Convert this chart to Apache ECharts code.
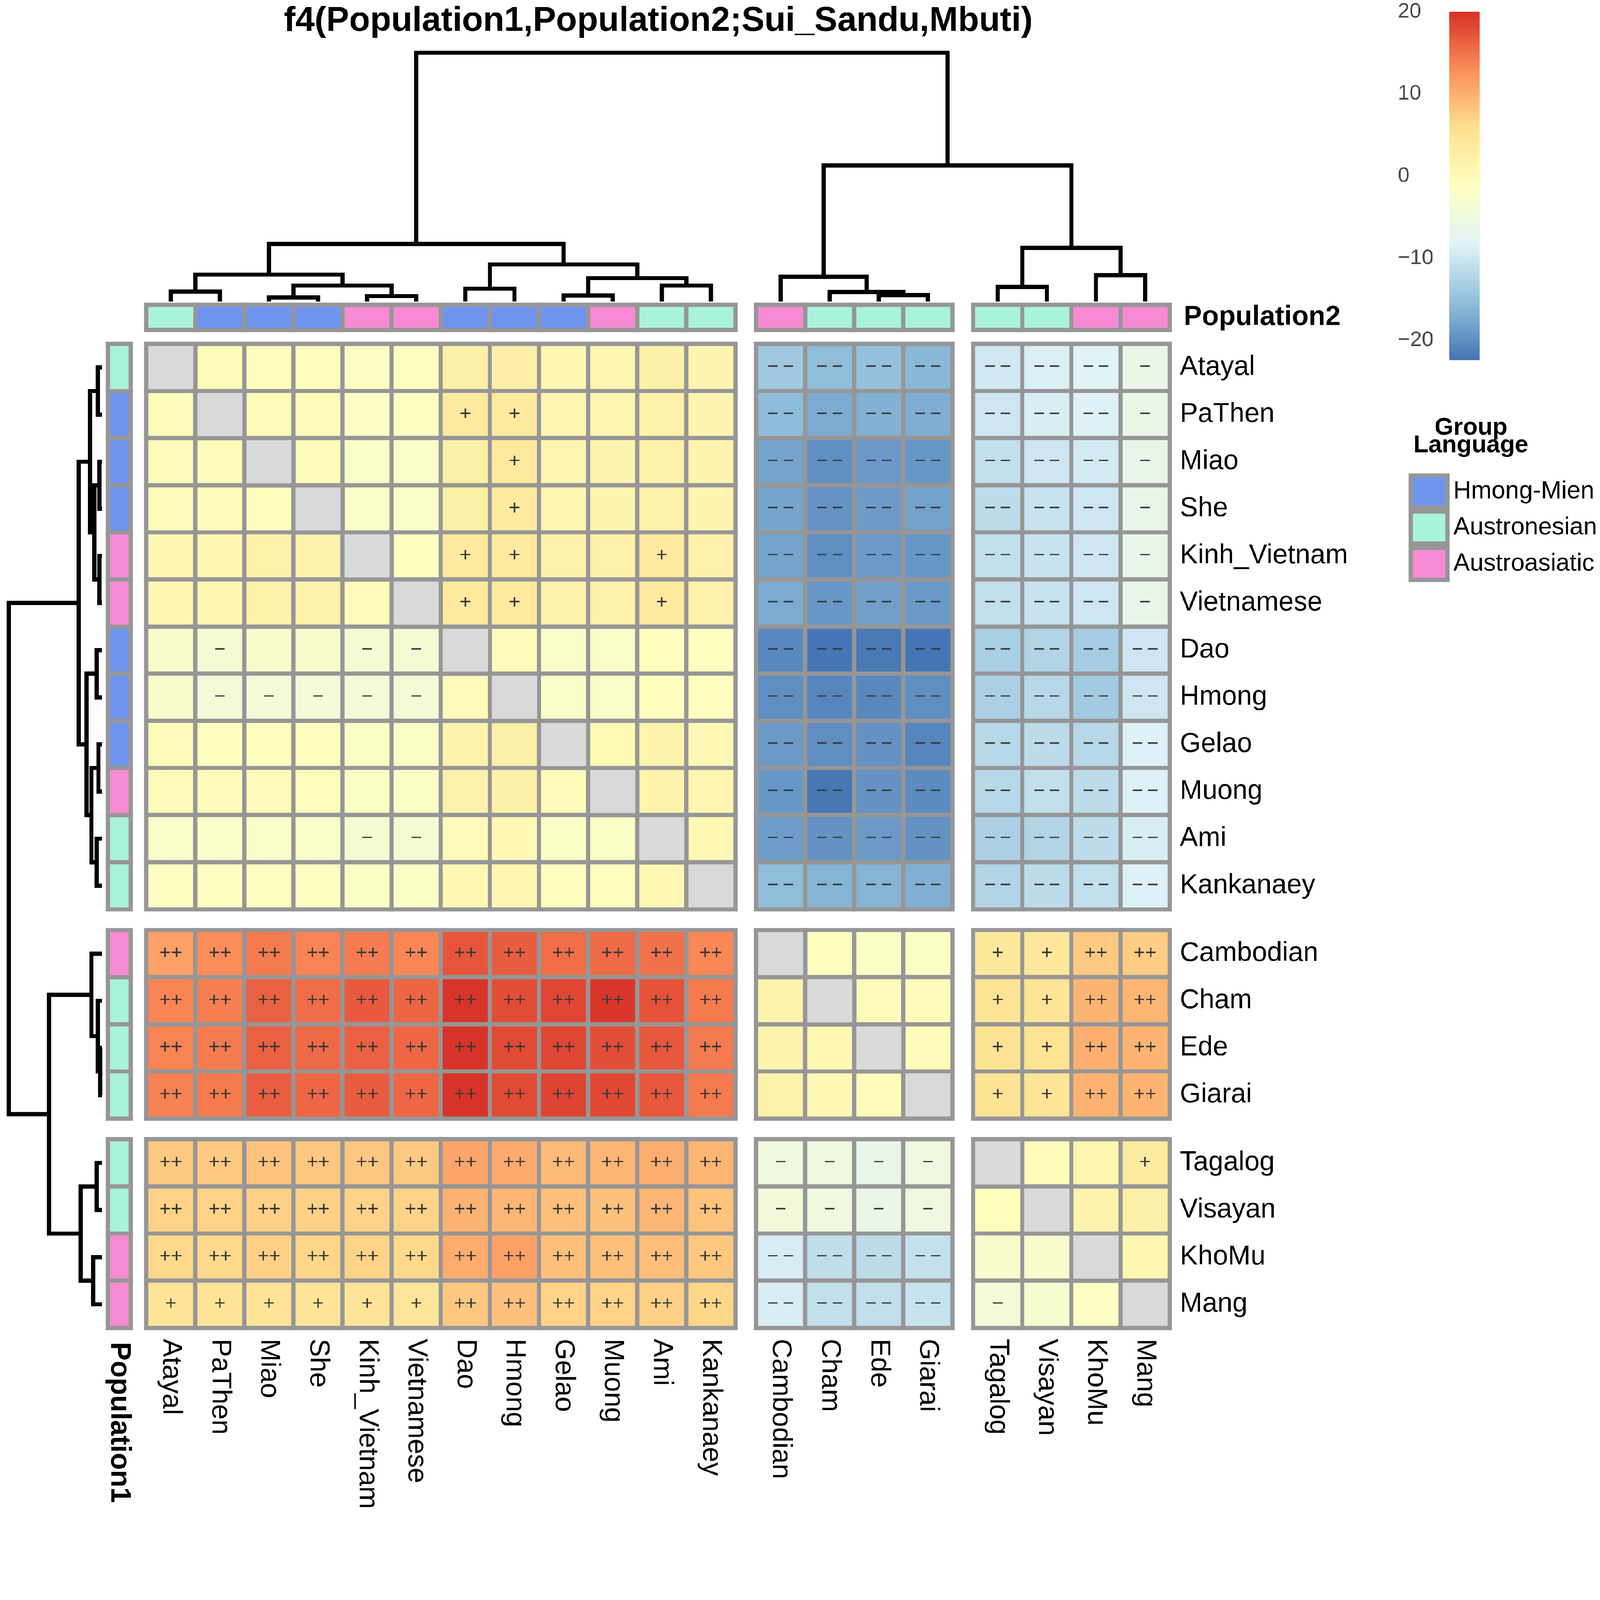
<!DOCTYPE html>
<html><head><meta charset="utf-8">
<script src="https://cdn.jsdelivr.net/npm/echarts@6/dist/echarts.min.js"></script>
<style>html,body{margin:0;padding:0;background:#fff;overflow:hidden}#c{width:4550px;height:4321px;transform-origin:0 0}</style>
</head><body><div id="c"></div>
<script>
// ---------------- DATA ----------------
const chartTitle = 'f4(Population1,Population2;Sui_Sandu,Mbuti)';
const populations = ['Atayal','PaThen','Miao','She','Kinh_Vietnam','Vietnamese','Dao','Hmong','Gelao','Muong','Ami','Kankanaey',
  'Cambodian','Cham','Ede','Giarai','Tagalog','Visayan','KhoMu','Mang'];
const clusterSizes = [12, 4, 4];
const languageGroups = ['Hmong-Mien', 'Austronesian', 'Austroasiatic'];
const populationLanguage = ['Austronesian','Hmong-Mien','Hmong-Mien','Hmong-Mien','Austroasiatic','Austroasiatic','Hmong-Mien','Hmong-Mien','Hmong-Mien','Austroasiatic','Austronesian','Austronesian',
  'Austroasiatic','Austronesian','Austronesian','Austronesian','Austronesian','Austronesian','Austroasiatic','Austroasiatic'];
// rows = Population1, columns = Population2 (same order as populations); null = same population
const f4Values = [
  [null,0,-0.8,-0.8,-1.8,-1.5,2.3,2.6,0.8,1,2.3,1.2, -14,-15.5,-15,-16, -9.8,-8.7,-8.2,-6.1],
  [-0.5,null,-0.5,-0.5,-1.8,-1.5,3.8,3.8,1,1,2,1.2, -15.6,-17.2,-16.7,-17, -10,-9,-8.5,-6],
  [-0.5,0,null,-0.3,-2.3,-2.3,2.5,3.6,1,1.2,2,1.3, -18,-19.9,-19,-19.2, -11,-10,-9.5,-6.5],
  [-0.5,0,-0.8,null,-2.3,-2.3,2.5,3.6,1,1.3,2,1.3, -17.8,-19.5,-18.7,-18.2, -11.5,-10.5,-10,-6.5],
  [0.8,1,2,1.7,null,-1.2,3.8,3.8,2,2,3.8,2, -18,-20,-18.9,-19.2, -11,-10.5,-10,-6.5],
  [0.8,1,2,1.7,-0.5,null,3.8,3.8,2,2,3.8,2, -17.3,-19.2,-18.4,-19, -11,-10.5,-10,-6.5],
  [-2.8,-3.8,-2.8,-2.8,-3.8,-3.8,null,-0.5,-2.3,-2.3,-1,-1.2, -20.5,-22.3,-22,-22.4, -13.2,-12.5,-13.5,-10],
  [-2.8,-4,-4,-4,-4,-4,0,null,-2.2,-2.2,-1,-1, -20,-20.8,-20.6,-20, -13,-12,-13.7,-10],
  [-0.5,-1,-1,-1,-2,-2,1.8,2.5,null,0.2,1.3,0.5, -18.9,-20,-19.6,-20.8, -12,-11.5,-12,-8.5],
  [-0.5,-0.5,-0.5,-0.7,-2,-2,2,2.2,-0.5,null,1.5,1, -19.2,-22.2,-19.6,-20.3, -12,-11,-11.5,-8.5],
  [-2.5,-2.5,-2.5,-2.5,-3.6,-3.6,0,0.3,-2,-2,null,0.3, -18.6,-19.6,-18.9,-19.6, -13,-12.5,-11.5,-9],
  [-1.5,-1.5,-1.5,-1.5,-2,-2,0.3,0.8,-1,-1,0.3,null, -15.5,-16.4,-16.4,-16.8, -12.5,-11.5,-11,-8.5],
  [11.3,13,14.3,13.7,14.2,13.5,17.2,16.6,15.3,15.5,15,13.4, null,-1,-2,-2, 4,4.2,7.8,7.5],
  [13.6,14,16.3,15.4,16.8,15.9,19.7,17.8,18.3,19.5,17.4,14.3, 1.5,null,-0.5,-0.5, 5.2,5,9.6,9.5],
  [13.6,14.2,16.3,15.6,16.3,15.8,19.8,18,18.3,17.8,17,14.4, 1.5,0.5,null,-0.5, 5.3,5.2,10,9.6],
  [13.8,14.3,16.5,15.8,16.6,15.8,19.8,18,18.5,18.2,17,14.4, 2,0.5,-0.5,null, 5.3,5,9.8,9.6],
  [7.8,7.8,8.3,8,8,7.8,11,10.5,9.2,9.5,10.2,9.5, -4.8,-5,-6.5,-5.2, null,-0.5,1,3.5],
  [7,7,7.2,7.2,7,7,9.8,9.5,8.7,8.5,9.5,8.3, -4.5,-5,-6,-5.2, -0.8,null,1.5,2.5],
  [6.5,6.5,7.2,6.8,7,6.5,10.3,11.2,8.7,8.7,8.8,8, -9.1,-11.2,-11.5,-10.8, -2.8,-2.8,null,0.8],
  [5,5,5,5,5,4.7,8,8.5,7,7,7.2,6.8, -9,-11,-11.1,-10.5, -4,-3,-1.8,null]
];
// significance marks: P = "++", p = "+", M = "--", m = "-", . = none
const significance = [
  '............MMMMMMMm',
  '......pp....MMMMMMMm',
  '.......p....MMMMMMMm',
  '.......p....MMMMMMMm',
  '......pp..p.MMMMMMMm',
  '......pp..p.MMMMMMMm',
  '.m..mm......MMMMMMMM',
  '.mmmmm......MMMMMMMM',
  '............MMMMMMMM',
  '............MMMMMMMM',
  '....mm......MMMMMMMM',
  '............MMMMMMMM',
  'PPPPPPPPPPPP....ppPP',
  'PPPPPPPPPPPP....ppPP',
  'PPPPPPPPPPPP....ppPP',
  'PPPPPPPPPPPP....ppPP',
  'PPPPPPPPPPPPmmmm...p',
  'PPPPPPPPPPPPmmmm....',
  'PPPPPPPPPPPPMMMM....',
  'ppppppPPPPPPMMMMm...'
];
// dendrogram merges: [left, right, height]; refs < 100 are leaf indexes, refs >= 100 are merge (ref-100)
const colMerges = [
  [2,3,12],[4,5,16],[0,1,29],[100,101,46],[102,103,77],
  [8,9,18],[10,11,46],[6,7,37],[105,106,67],[107,108,106],
  [104,109,164],[14,15,19],[13,111,28],[12,112,71],[16,17,42],
  [18,19,75],[114,115,153],[113,116,388],[110,117,708]
];
const rowMerges = [
  [2,3,7],[4,5,7],[0,1,12],[100,101,22],[102,103,34],
  [6,7,15],[8,9,10],[10,11,15],[106,107,30],[105,108,44],
  [104,109,66],[14,15,5],[13,111,12],[12,112,30],[16,17,15],
  [18,19,25],[114,115,61],[113,116,151],[110,117,265]
];
const colorRange = [-22.4, 20];
const colorbarTicks = [20, 10, 0, -10, -20];
const paletteColors = ['#4575B4','#91BFDB','#E0F3F8','#FFFFBF','#FEE090','#FC8D59','#D73027'];

// ---------------- STYLE / LAYOUT ----------------
const FONT = '"Liberation Sans", Arial, Helvetica, sans-serif';
const GRID_LINE = '#969696';
const NA_COLOR = '#d9d9d9';
const LANG_COLORS = {'Hmong-Mien':'#6f95ef','Austronesian':'#a9f3da','Austroasiatic':'#f68bd4'};
const SIGN_TEXT = {'P':'++','p':'+','M':'\u2212\u2009\u2212','m':'\u2212','.':''};
const L = {cellW:139.6, gapW:59, left0:416, cellH:134, gapH:59, top0:978,
  annTop:867, annH:71, annLeft:307, annW:65, border:12,
  colDendTop:150, colDendBottom:858, rowDendLeft:25, rowDendRight:290};

const starts = []; let acc = 0;
clusterSizes.forEach(s => { starts.push(acc); acc += s; });
const N = acc;
const colLeft = starts.map((s,g) => L.left0 + s*L.cellW + g*L.gapW);
const rowTop = starts.map((s,g) => L.top0 + s*L.cellH + g*L.gapH);
const totalW = N*L.cellW + (clusterSizes.length-1)*L.gapW;
const totalH = N*L.cellH + (clusterSizes.length-1)*L.gapH;
const names = g => populations.slice(starts[g], starts[g]+clusterSizes[g]);

const grid = [], xAxis = [], yAxis = [], series = [], mainIdx = [];
const hiddenAxis = {axisLine:{show:false}, axisTick:{show:false}, splitLine:{show:false}};
function addGrid(g, xa, ya) {
  const i = grid.length;
  grid.push(Object.assign({containLabel:false}, g));
  xAxis.push(Object.assign({gridIndex:i}, hiddenAxis, xa));
  yAxis.push(Object.assign({gridIndex:i}, hiddenAxis, ya));
  return i;
}

// ---- heatmap blocks ----
for (let r = 0; r < 3; r++) {
  for (let c = 0; c < 3; c++) {
    const r0 = starts[r], c0 = starts[c];
    const gi = addGrid(
      {left: colLeft[c], top: rowTop[r], width: clusterSizes[c]*L.cellW, height: clusterSizes[r]*L.cellH},
      {type:'category', data: names(c), axisLabel:{show: r===2, rotate:-90, fontSize:78, margin:31, color:'#000', fontFamily:FONT}},
      {type:'category', data: names(r), inverse:true, position:'right', axisLabel:{show: c===2, fontSize:77, margin:29, color:'#000', fontFamily:FONT}}
    );
    const data = [], na = [];
    for (let i = 0; i < clusterSizes[r]; i++) for (let j = 0; j < clusterSizes[c]; j++) {
      const v = f4Values[r0+i][c0+j];
      if (v === null) na.push([j, i, 0]); else data.push([j, i, v]);
    }
    series.push({type:'heatmap', xAxisIndex:gi, yAxisIndex:gi, data,
      itemStyle:{borderColor:GRID_LINE, borderWidth:L.border},
      label:{show:true, fontSize:56, color:'#383838', fontFamily:FONT,
        formatter: p => SIGN_TEXT[significance[r0+p.value[1]][c0+p.value[0]]]},
      emphasis:{disabled:true}});
    mainIdx.push(series.length-1);
    if (na.length) series.push({type:'heatmap', xAxisIndex:gi, yAxisIndex:gi, data:na,
      itemStyle:{color:NA_COLOR, borderColor:GRID_LINE, borderWidth:L.border}, emphasis:{disabled:true}});
  }
}

// ---- column annotation (Population2) ----
for (let c = 0; c < 3; c++) {
  const gi = addGrid({left: colLeft[c], top: L.annTop, width: clusterSizes[c]*L.cellW, height: L.annH},
    {type:'category', data: names(c), axisLabel:{show:false}},
    {type:'category', data:['Population2'], position:'right', axisLabel:{show: c===2, fontSize:78, fontWeight:'bold', margin:40, color:'#000', fontFamily:FONT}});
  languageGroups.forEach(lang => {
    const d = [];
    names(c).forEach((n, j) => { if (populationLanguage[starts[c]+j] === lang) d.push([j, 0, 1]); });
    series.push({type:'heatmap', name: lang, xAxisIndex:gi, yAxisIndex:gi, data:d,
      itemStyle:{color:LANG_COLORS[lang], borderColor:GRID_LINE, borderWidth:L.border}, emphasis:{disabled:true}});
  });
}
// ---- row annotation (Population1) ----
for (let r = 0; r < 3; r++) {
  const gi = addGrid({left: L.annLeft, top: rowTop[r], width: L.annW, height: clusterSizes[r]*L.cellH},
    {type:'category', data:['Population1'], axisLabel:{show: r===2, rotate:-90, fontSize:80, fontWeight:'bold', margin:40, color:'#000', fontFamily:FONT}},
    {type:'category', data: names(r), inverse:true, axisLabel:{show:false}});
  languageGroups.forEach(lang => {
    const d = [];
    names(r).forEach((n, i) => { if (populationLanguage[starts[r]+i] === lang) d.push([0, i, 1]); });
    series.push({type:'heatmap', name: lang, xAxisIndex:gi, yAxisIndex:gi, data:d,
      itemStyle:{color:LANG_COLORS[lang], borderColor:GRID_LINE, borderWidth:L.border}, emphasis:{disabled:true}});
  });
}

// ---- dendrograms ----
function leafPos(idx, gapU) {
  let g = 0; while (idx >= starts[g] + clusterSizes[g]) g++;
  return idx + 0.5 + g*gapU;
}
function treeSegments(merges, gapU) {
  const pos = [], hgt = [], segs = [];
  const get = ref => ref >= 100 ? [pos[ref-100], hgt[ref-100]] : [leafPos(ref, gapU), 0];
  merges.forEach(([a, b, h], k) => {
    const [pa, ha] = get(a), [pb, hb] = get(b);
    pos[k] = (pa + pb) / 2; hgt[k] = h;
    segs.push([[pa, ha], [pa, h], [pb, h], [pb, hb]]);
  });
  return segs;
}
const colRoot = Math.max(...colMerges.map(m => m[2]));
const rowRoot = Math.max(...rowMerges.map(m => m[2]));
const colUnits = totalW / L.cellW, rowUnits = totalH / L.cellH;
const lineStyle = {color:'#000', width:12, opacity:1, curveness:0, cap:'butt', join:'miter'};
{
  const gi = addGrid({left: L.left0, top: L.colDendTop, width: totalW, height: L.colDendBottom - L.colDendTop},
    {type:'value', min:0, max:colUnits, show:false}, {type:'value', min:0, max:colRoot, show:false});
  series.push({type:'lines', coordinateSystem:'cartesian2d', xAxisIndex:gi, yAxisIndex:gi, polyline:true, silent:true,
    lineStyle, data: treeSegments(colMerges, L.gapW/L.cellW).map(s => ({coords: s}))});
}
{
  const gi = addGrid({left: L.rowDendLeft, top: L.top0, width: L.rowDendRight - L.rowDendLeft, height: totalH},
    {type:'value', min:0, max:rowRoot, inverse:true, show:false}, {type:'value', min:0, max:rowUnits, inverse:true, show:false});
  series.push({type:'lines', coordinateSystem:'cartesian2d', xAxisIndex:gi, yAxisIndex:gi, polyline:true, silent:true,
    lineStyle, data: treeSegments(rowMerges, L.gapH/L.cellH).map(s => ({coords: s.map(([p, h]) => [h, p])}))});
}

// ---- colorbar tick labels ----
const CB = {left:4121, top:33, width:87, height:991};
{
  const gi = addGrid(CB, {type:'value', min:0, max:1, show:false}, {type:'value', min:colorRange[0], max:colorRange[1], show:false});
  series.push({type:'scatter', xAxisIndex:gi, yAxisIndex:gi, symbolSize:0.1, silent:true,
    data: colorbarTicks.map(v => [0, v]),
    label:{show:true, position:'left', distance:146, align:'left', fontSize:60, color:'#1a1a1a', fontFamily:FONT,
      formatter: p => (p.value[1] < 0 ? '\u2212' + Math.abs(p.value[1]) : String(p.value[1]))}});
}

const option = {
  backgroundColor:'#fff',
  animation:false,
  title:[
    {text: chartTitle, left:1872, top:12, textAlign:'center', padding:0,
      textStyle:{fontSize:98, fontWeight:'bold', color:'#000', fontFamily:FONT}},
    {text:'Group\nLanguage', left:4183, top:1192, textAlign:'center', padding:0,
      textStyle:{fontSize:69, fontWeight:'bold', color:'#000', lineHeight:50, fontFamily:FONT}}
  ],
  legend:{orient:'vertical', left:4006, top:1346, padding:0, itemGap:0, itemWidth:104, itemHeight:91,
    selectedMode:false, icon:'rect',
    itemStyle:{borderColor:GRID_LINE, borderWidth:L.border},
    textStyle:{fontSize:70, color:'#000', fontFamily:FONT, padding:[0,0,0,12]},
    data: languageGroups},
  visualMap:{type:'continuous', min:colorRange[0], max:colorRange[1], seriesIndex: mainIdx,
    left:CB.left, top:CB.top, itemWidth:CB.width, itemHeight:CB.height, padding:0,
    calculable:false, hoverLink:false, showLabel:false, text:null,
    inRange:{color: paletteColors}},
  grid, xAxis, yAxis, series
};
// fit the 4550x4321 design into whatever CSS viewport the window provides
const el = document.getElementById('c');
const fit = Math.min(window.innerWidth / 4550, window.innerHeight / 4321);
if (fit > 0 && Math.abs(fit - 1) > 0.001) el.style.transform = 'scale(' + fit + ')';
const chart = echarts.init(el, null, {renderer:'canvas'});
chart.setOption(option);
</script></body></html>
